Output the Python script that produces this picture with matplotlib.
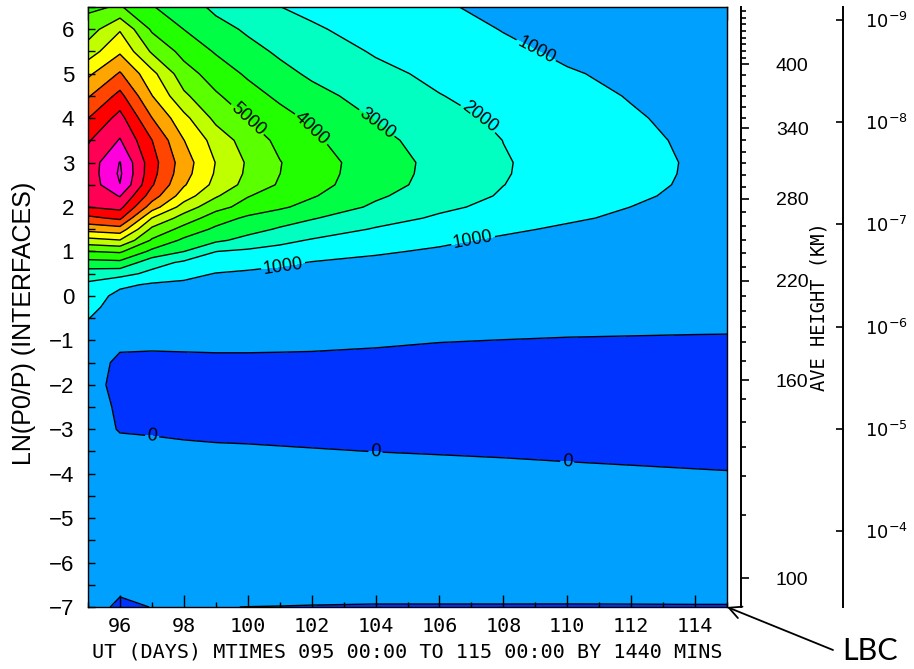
import numpy as np
import matplotlib
matplotlib.use("Agg")
import matplotlib.pyplot as plt
from matplotlib.ticker import FixedLocator, MultipleLocator, NullLocator

# grid: days (columns) and ln(p0/p) interfaces (rows)
DAYS = [95, 96, 97, 98, 99, 100, 101, 102, 104, 106, 108, 110, 112, 114, 115]
LN_GRID = [-7, -6.5, -6, -5, -4, -3.5, -3, -2.5, -2, -1.5, -1, -0.5, -0.25, 0,
           0.25, 0.5, 0.75, 1, 1.25, 1.5, 1.75, 2, 2.25, 2.5, 2.75, 3,
           3.5, 4, 4.5, 5, 5.5, 6, 6.5]

# one vertical profile per day, bottom (-7) to top (6.5)
DAY_095 = [230, 400, 500, 550, 500, 300, 300, 350, 255, 350, 500, 1030, 1280, 1550,
           1800, 2500, 3650, 4980, 6650, 8350, 9750, 11020, 11250, 11350, 11400, 11400,
           10900, 9980, 8900, 7800, 6500, 5500, 4800]
DAY_096 = [-100, 120, 420, 450, 460, 200, -40, -120, -200, -150, 176, 450, 580, 700,
           1200, 2350, 3750, 5150, 6950, 8600, 10200, 11300, 12050, 12980, 13150, 13040,
           12070, 11350, 10300, 9100, 7850, 6900, 5100]
DAY_097 = [10, 300, 420, 430, 420, 170, -73, -300, -300, -200, 185, 500, 560, 600,
           870, 1750, 2400, 3770, 4870, 5780, 6980, 8500, 9500, 10110, 10330, 10400,
           10020, 9020, 8030, 7290, 5860, 4850, 4050]
DAY_098 = [60, 330, 420, 420, 390, 130, -120, -330, -320, -210, 228, 520, 530, 560,
           780, 1340, 1830, 3010, 3800, 4670, 5560, 6570, 7500, 8100, 8380, 8480,
           8020, 7290, 6190, 5420, 4680, 3990, 3550]
DAY_099 = [15, 330, 410, 400, 360, 100, -150, -350, -340, -220, 280, 500, 510, 540,
           720, 960, 1610, 2010, 3180, 3810, 4500, 5330, 6120, 6710, 6890, 6970,
           6600, 5740, 5130, 4540, 3910, 3370, 2760]
DAY_100 = [-5, 330, 400, 390, 340, 80, -155, -360, -350, -230, 293, 480, 500, 520,
           680, 830, 1390, 1820, 2700, 3330, 3810, 4650, 5050, 5670, 5830, 5880,
           5550, 4970, 4410, 3850, 3320, 2850, 2400]
DAY_101 = [-15, 325, 390, 380, 320, 60, -180, -370, -360, -235, 270, 465, 480, 500,
           620, 730, 1170, 1640, 2260, 2900, 3440, 4150, 4560, 4890, 5010, 5040,
           4760, 4360, 3800, 3280, 2850, 2480, 2010]
DAY_102 = [-30, 320, 380, 370, 300, 40, -210, -380, -370, -240, 240, 450, 470, 490,
           600, 700, 960, 1460, 1920, 2550, 3070, 3680, 4090, 4350, 4430, 4460,
           4180, 3820, 3300, 2850, 2510, 2110, 1800]
DAY_104 = [-50, 320, 370, 350, 260, -5, -250, -390, -380, -260, 134, 420, 450, 470,
           560, 660, 800, 1110, 1550, 1920, 2400, 2840, 3140, 3390, 3460, 3480,
           3260, 2940, 2610, 2240, 1910, 1670, 1460]
DAY_106 = [-50, 320, 360, 330, 230, -40, -280, -400, -390, -290, 32, 380, 420, 450,
           530, 620, 720, 880, 1170, 1550, 1860, 2190, 2470, 2640, 2700, 2720,
           2580, 2330, 2030, 1790, 1550, 1310, 1100]
DAY_108 = [-50, 320, 350, 310, 200, -80, -300, -410, -400, -320, -10, 340, 380, 420,
           500, 580, 650, 720, 850, 1170, 1500, 1740, 1910, 2010, 2050, 2060,
           1990, 1830, 1660, 1430, 1160, 970, 780]
DAY_110 = [-50, 310, 340, 290, 129, -110, -320, -420, -410, -340, -50, 307, 360, 400,
           470, 540, 600, 640, 700, 850, 1140, 1370, 1530, 1625, 1660, 1670,
           1600, 1460, 1290, 1060, 870, 800, 650]
DAY_112 = [-45, 300, 330, 270, 86, -140, -330, -430, -420, -350, -80, 320, 340, 380,
           450, 510, 560, 590, 640, 720, 820, 995, 1150, 1240, 1280, 1290,
           1220, 1090, 950, 850, 760, 700, 580]
DAY_114 = [-40, 300, 320, 250, 45, -160, -340, -440, -430, -360, -100, 285, 320, 370,
           430, 490, 530, 560, 600, 660, 700, 740, 780, 860, 890, 900,
           840, 760, 740, 710, 680, 630, 540]
DAY_115 = [-40, 300, 310, 240, 28, -170, -340, -440, -430, -360, -110, 283, 310, 360,
           420, 480, 520, 550, 590, 640, 680, 720, 750, 800, 820, 830,
           790, 720, 700, 680, 660, 620, 520]

LEVELS = [0, 1000, 2000, 3000, 4000, 5000, 6000, 7000, 8000, 9000, 10000, 11000, 12000, 13000]
BAND_COLORS = ["#0033ff", "#00a0ff", "#00ffff", "#00ffc0", "#00ff44", "#22ff00", "#5aff00",
               "#c0ff00", "#ffff00", "#ffa500", "#ff4500", "#ff0000", "#ff0055", "#ff00dd",
               "#ff00dd"]
LABEL_LEVELS = [0, 1000, 2000, 3000, 4000, 5000]
LABEL_SPOTS = [(97.0, -3.2), (104.0, -3.5), (110.0, -3.72),
               (109.0, 5.49), (107.05, 1.26), (101.1, 0.7),
               (107.2, 3.96), (104.05, 3.9), (101.95, 3.73), (99.98, 3.96)]

# average height (km) against ln(p0/p)
HEIGHT_KM = [85, 100, 110, 120, 130, 140, 150, 160, 170, 180, 190, 200, 220, 280, 340, 400, 480, 540]
HEIGHT_LN = [-8.5, -6.35, -4.92, -4.06, -3.40, -2.83, -2.33, -1.90, -1.46, -1.04, -0.70, -0.33,
             0.34, 2.19, 3.77, 5.21, 6.41, 7.3]
HEIGHT_LABELS = [100, 160, 220, 280, 340, 400]
P0 = 5e-7
PRESSURE_TICKS = [1e-9, 1e-8, 1e-7, 1e-6, 1e-5, 1e-4]
PRESSURE_LABELS = [r"$10^{-9}$", r"$10^{-8}$", r"$10^{-7}$", r"$10^{-6}$", r"$10^{-5}$", r"$10^{-4}$"]

MONO = "DejaVu Sans Mono"
plt.rcParams["font.family"] = ["Liberation Sans", "DejaVu Sans"]

field = np.column_stack([DAY_095, DAY_096, DAY_097, DAY_098, DAY_099, DAY_100, DAY_101,
                         DAY_102, DAY_104, DAY_106, DAY_108, DAY_110, DAY_112, DAY_114,
                         DAY_115]).astype(float)

W, H = 914, 669
fig = plt.figure(figsize=(W / 100, H / 100), dpi=100)
ax = fig.add_axes([88 / W, (H - 607) / H, (727 - 88) / W, 600 / H])

ax.contourf(DAYS, LN_GRID, field, levels=[-1000] + LEVELS + [14000], colors=BAND_COLORS)
cs = ax.contour(DAYS, LN_GRID, field, levels=LEVELS, colors="k", linewidths=1.0)
ax.clabel(cs, levels=LABEL_LEVELS, fmt="%d", fontsize=13, inline=True,
          inline_spacing=2, manual=LABEL_SPOTS)

ax.set_xlim(95, 115)
ax.set_ylim(-7, 6.5)

# bottom axis: long ticks on even days, short on odd ones
ax.xaxis.set_major_locator(FixedLocator(list(range(96, 115, 2))))
ax.xaxis.set_minor_locator(MultipleLocator(1))
ax.tick_params(axis="x", which="major", direction="in", length=8.5, width=1.0, pad=7,
               labelsize=14.5, top=False)
ax.tick_params(axis="x", which="minor", direction="in", length=3.5, width=1.0, top=False)
for t in ax.get_xticklabels():
    t.set_fontfamily(MONO)

top = ax.secondary_xaxis("top")
top.xaxis.set_major_locator(MultipleLocator(1))
top.tick_params(direction="in", length=9, width=1.0, labeltop=False)

ax.yaxis.set_major_locator(MultipleLocator(1))
ax.yaxis.set_minor_locator(MultipleLocator(0.5))
ax.tick_params(axis="y", which="both", direction="in", length=5, width=1.0, right=True)
ax.tick_params(axis="y", which="major", labelsize=16, pad=10)
ax.set_ylabel("LN(P0/P) (INTERFACES)", fontsize=18)
ax.yaxis.set_label_coords(-0.082, 0.473)
ax.set_xlabel("UT (DAYS) MTIMES 095 00:00 TO 115 00:00 BY 1440 MINS", fontsize=14.5,
              family=MONO, labelpad=5)
for s in ax.spines.values():
    s.set_linewidth(1.0)

# average height scale
hax = ax.twinx()
hax.set_ylim(ax.get_ylim())
for name in ["top", "bottom", "left"]:
    hax.spines[name].set_visible(False)
hax.spines["right"].set_position(("axes", (741 - 88) / 639))
hax.spines["right"].set_linewidth(1.4)
hax.set_yticks(np.interp(HEIGHT_LABELS, HEIGHT_KM, HEIGHT_LN))
hax.set_yticklabels([str(h) for h in HEIGHT_LABELS])
minor_h = [h for h in range(100, 490, 10) if h not in HEIGHT_LABELS]
hax.set_yticks(np.interp(minor_h, HEIGHT_KM, HEIGHT_LN), minor=True)
hax.tick_params(axis="y", which="major", direction="out", length=6, width=1.2,
                labelsize=14, pad=19)
hax.tick_params(axis="y", which="minor", direction="out", length=3.5, width=1.2)
hax.set_ylabel("AVE HEIGHT (KM)", family=MONO, fontsize=13.5, labelpad=1)
hax.set_ylim(-7, 6.5)

# pressure scale
pax = ax.twinx()
pax.set_ylim(-7, 6.5)
for name in ["top", "bottom", "left"]:
    pax.spines[name].set_visible(False)
pax.spines["right"].set_position(("axes", (843 - 88) / 639))
pax.spines["right"].set_linewidth(1.4)
pax.set_yticks(np.log(P0 / np.array(PRESSURE_TICKS)))
pax.set_yticklabels(PRESSURE_LABELS)
pax.yaxis.set_minor_locator(NullLocator())
pax.tick_params(axis="y", direction="in", length=5, width=1.2, labelsize=13, pad=16)
pax.set_ylim(-7, 6.5)

ax.annotate("", xy=(115, -7), xycoords="data", xytext=(833 / W, 1 - 650 / H),
            textcoords="figure fraction", annotation_clip=False,
            arrowprops=dict(arrowstyle="->", lw=1.3, color="k", shrinkA=0, shrinkB=0,
                            mutation_scale=22))
fig.text(842 / W, 1 - 637 / H, "LBC", fontsize=22, family=["Lato", "DejaVu Sans"],
         ha="left", va="top")

fig.savefig("out.png", dpi=100)
